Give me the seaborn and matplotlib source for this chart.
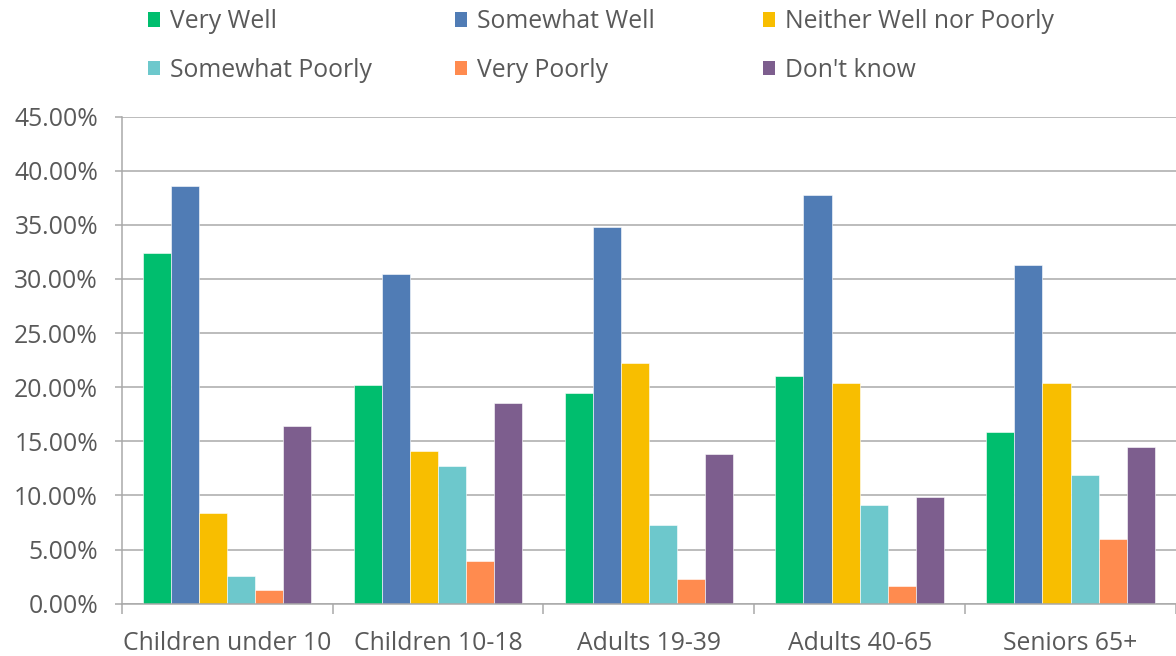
import numpy as np
import pandas as pd
import matplotlib
matplotlib.use("Agg")
import matplotlib.pyplot as plt
from matplotlib.ticker import PercentFormatter, FixedLocator
from matplotlib.patches import Patch
import seaborn as sns

# Survey responses by age group (percent of respondents)
groups = ["Children under 10", "Children 10-18", "Adults 19-39", "Adults 40-65", "Seniors 65+"]
series = ["Very Well", "Somewhat Well", "Neither Well nor Poorly",
          "Somewhat Poorly", "Very Poorly", "Don't know"]

very_well = [32.4, 20.2, 19.5, 21.0, 15.9]
somewhat_well = [38.6, 30.5, 34.8, 37.8, 31.3]
neither = [8.4, 14.1, 22.2, 20.4, 20.4]
somewhat_poorly = [2.6, 12.7, 7.3, 9.1, 11.9]
very_poorly = [1.3, 3.9, 2.3, 1.6, 6.0]
dont_know = [16.4, 18.5, 13.8, 9.9, 14.5]

colors = ["#00BE6E", "#507CB5", "#F8BE00", "#6DC8CC", "#FF8B4F", "#7D5E8E"]

sns.set_theme(style="white")
plt.rcParams["font.family"] = ["Open Sans", "DejaVu Sans"]

values = [very_well, somewhat_well, neither, somewhat_poorly, very_poorly, dont_know]
rows = []
for name, vals in zip(series, values):
    for g, v in zip(groups, vals):
        rows.append({"group": g, "series": name, "value": v})
df = pd.DataFrame(rows)

W, H = 1176, 656
fig = plt.figure(figsize=(W / 100, H / 100), dpi=100)
left, right, top, bottom = 121.7, 1176, 116.6, 603.7
ax = fig.add_axes([left / W, 1 - bottom / H, (right - left) / W, (bottom - top) / H])

sns.barplot(data=df, x="group", y="value", hue="series", order=groups,
            hue_order=series, palette=colors, saturation=1, width=0.8, gap=0,
            ax=ax, legend=False, edgecolor="white", linewidth=0.4)

text_color = "#595959"
line_color = "#A9A9A9"
fs = 17.8

ax.set_xlim(-0.5, 4.5)
ax.set_ylim(0, 45)
ax.yaxis.set_major_locator(FixedLocator(np.arange(0, 46, 5)))
ax.yaxis.set_major_formatter(PercentFormatter(xmax=100, decimals=2))
ax.yaxis.grid(True, color=line_color, linewidth=1.1)
ax.xaxis.grid(False)
ax.set_axisbelow(True)

# category boundaries carry the tick marks, labels sit at category centres
ax.set_xticks(np.arange(-0.5, 5.0, 1.0))
ax.set_xticklabels([])
ax.set_xticks(np.arange(5), minor=True)
ax.set_xticklabels(groups, minor=True)
ax.tick_params(axis="x", which="major", length=7, width=1.1, color=line_color, direction="out", bottom=True)
ax.tick_params(axis="x", which="minor", length=0, pad=20, labelsize=fs, labelcolor=text_color)
ax.tick_params(axis="y", length=5, width=1.1, color=line_color, direction="out", left=True,
               pad=12, labelsize=fs, labelcolor=text_color)
ax.set_xlabel("")
ax.set_ylabel("")

for s in ["top", "right"]:
    ax.spines[s].set_visible(False)
for s in ["left", "bottom"]:
    ax.spines[s].set_color(line_color)
    ax.spines[s].set_linewidth(1.1)

# legend: three columns, two rows each
col_x = [148, 455, 763]
for c in range(3):
    handles = [Patch(facecolor=colors[c + 3 * r], edgecolor="none", label=series[c + 3 * r])
               for r in range(2)]
    fig.legend(handles=handles, loc="center left",
               bbox_to_anchor=(col_x[c] / W, 1 - 46 / H),
               frameon=False, fontsize=fs, borderpad=0, borderaxespad=0,
               handlelength=0.5, handleheight=0.5, handletextpad=0.4,
               labelspacing=0.95, labelcolor=text_color)

fig.savefig("out.png", dpi=100)
